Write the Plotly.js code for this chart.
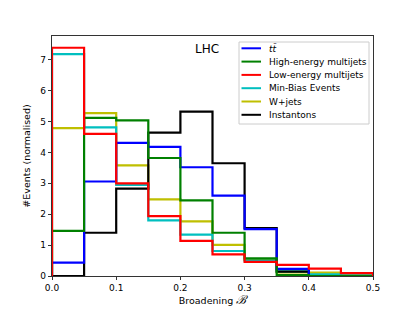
<!DOCTYPE html>
<html>
<head>
<meta charset="utf-8">
<script src="https://cdn.plot.ly/plotly-3.0.1.min.js"></script>
<style>html,body{margin:0;padding:0;background:#fff;}#chart{width:415px;height:311px;}</style>
</head>
<body>
<div id="chart"></div>
<script>
const binEdges = [0.0, 0.05, 0.10, 0.15, 0.20, 0.25, 0.30, 0.35, 0.40, 0.45, 0.50];
const ttbar      = [0.43, 3.06, 4.31, 4.18, 3.52, 2.60, 1.52, 0.23, 0.00, 0.00];
const highMulti  = [1.46, 5.12, 5.04, 3.82, 2.45, 1.40, 0.57, 0.03, 0.00, 0.00];
const lowMulti   = [7.39, 4.60, 3.00, 1.94, 1.14, 0.70, 0.46, 0.36, 0.24, 0.09];
const minBias    = [7.18, 4.81, 2.95, 1.80, 1.34, 0.81, 0.50, 0.15, 0.05, 0.02];
const wjets      = [4.79, 5.27, 3.58, 2.48, 1.77, 1.01, 0.52, 0.12, 0.11, 0.02];
const instantons = [0.00, 1.40, 2.83, 4.64, 5.32, 3.65, 1.55, 0.14, 0.00, 0.00];
const legendLabels = ['<i>tt̄</i>', 'High-energy multijets', 'Low-energy multijets', 'Min-Bias Events', 'W+jets', 'Instantons'];
const legendColors = ['#0000ff', '#008000', '#ff0000', '#00bfbf', '#bfbf00', '#000000'];

// drawing order (back to front)
const series = [
  {name: legendLabels[4], y: wjets, color: legendColors[4]},
  {name: legendLabels[3], y: minBias, color: legendColors[3]},
  {name: legendLabels[5], y: instantons, color: legendColors[5]},
  {name: legendLabels[0], y: ttbar, color: legendColors[0]},
  {name: legendLabels[1], y: highMulti, color: legendColors[1]},
  {name: legendLabels[2], y: lowMulti, color: legendColors[2]}
];

function stepXY(vals) {
  const x = [binEdges[0]];
  const y = [0];
  for (let i = 0; i < vals.length; i++) { x.push(binEdges[i]); y.push(vals[i]); }
  x.push(binEdges[binEdges.length - 1]); y.push(0);
  return {x, y};
}

const traces = series.map(s => {
  const xy = stepXY(s.y);
  return {
    type: 'scatter', mode: 'lines', name: s.name, x: xy.x, y: xy.y,
    line: {shape: 'hv', color: s.color, width: 2.2},
    showlegend: false, hoverinfo: 'skip', cliponaxis: true
  };
});

const font = {family: 'DejaVu Sans, sans-serif', color: '#000'};

// manual legend (matplotlib-like compact spacing), in paper coords
const plotTop = 36, plotBottom = 276, plotLeft = 52, plotRight = 373;
const px2x = p => (p - plotLeft) / (plotRight - plotLeft);
const py2y = p => (plotBottom - p) / (plotBottom - plotTop);
const shapes = [{
  type: 'rect', xref: 'paper', yref: 'paper', layer: 'above',
  x0: px2x(239), x1: px2x(369), y0: py2y(124), y1: py2y(42),
  line: {color: '#cccccc', width: 1}, fillcolor: 'rgba(255,255,255,0.8)'
}];
const annotations = [{
  text: 'LHC', x: 0.242, y: 7.35, xref: 'x', yref: 'y', showarrow: false,
  font: Object.assign({size: 12}, font)
}];
legendLabels.forEach((lab, i) => {
  const rowY = 48.3 + i * 13.3;
  shapes.push({
    type: 'line', xref: 'paper', yref: 'paper', layer: 'above',
    x0: px2x(241.5), x1: px2x(261), y0: py2y(rowY), y1: py2y(rowY),
    line: {color: legendColors[i], width: 2}
  });
  annotations.push({
    text: lab, xref: 'paper', yref: 'paper', x: px2x(267), y: py2y(rowY),
    xanchor: 'left', yanchor: 'middle', showarrow: false,
    font: Object.assign({size: 9}, font)
  });
});

const layout = {
  width: 415, height: 311,
  margin: {l: 52, r: 42, t: 36, b: 35, pad: 0},
  paper_bgcolor: '#fff', plot_bgcolor: '#fff',
  font: Object.assign({size: 9}, font),
  showlegend: false,
  xaxis: {
    range: [0, 0.5], tickvals: [0, 0.1, 0.2, 0.3, 0.4, 0.5], tickformat: '.1f',
    ticks: 'outside', ticklen: 3.5, tickwidth: 0.8, tickcolor: '#000',
    showline: true, linecolor: '#000', linewidth: 0.8, mirror: true,
    showgrid: false, zeroline: false,
    tickfont: Object.assign({size: 9}, font),
    title: {text: 'Broadening <i><span style="font-size:12px;font-family:DejaVu Serif">ℬ</span></i>', font: Object.assign({size: 9.5}, font), standoff: 4}
  },
  yaxis: {
    range: [0, 7.77], tickvals: [0, 1, 2, 3, 4, 5, 6, 7],
    ticks: 'outside', ticklen: 3.5, tickwidth: 0.8, tickcolor: '#000',
    showline: true, linecolor: '#000', linewidth: 0.8, mirror: true,
    showgrid: false, zeroline: false,
    tickfont: Object.assign({size: 9}, font),
    title: {text: '#Events (normalised)', font: Object.assign({size: 9.5}, font), standoff: 7}
  },
  shapes: shapes,
  annotations: annotations
};

Plotly.newPlot('chart', traces, layout, {staticPlot: true, displayModeBar: false});
</script>
</body>
</html>
